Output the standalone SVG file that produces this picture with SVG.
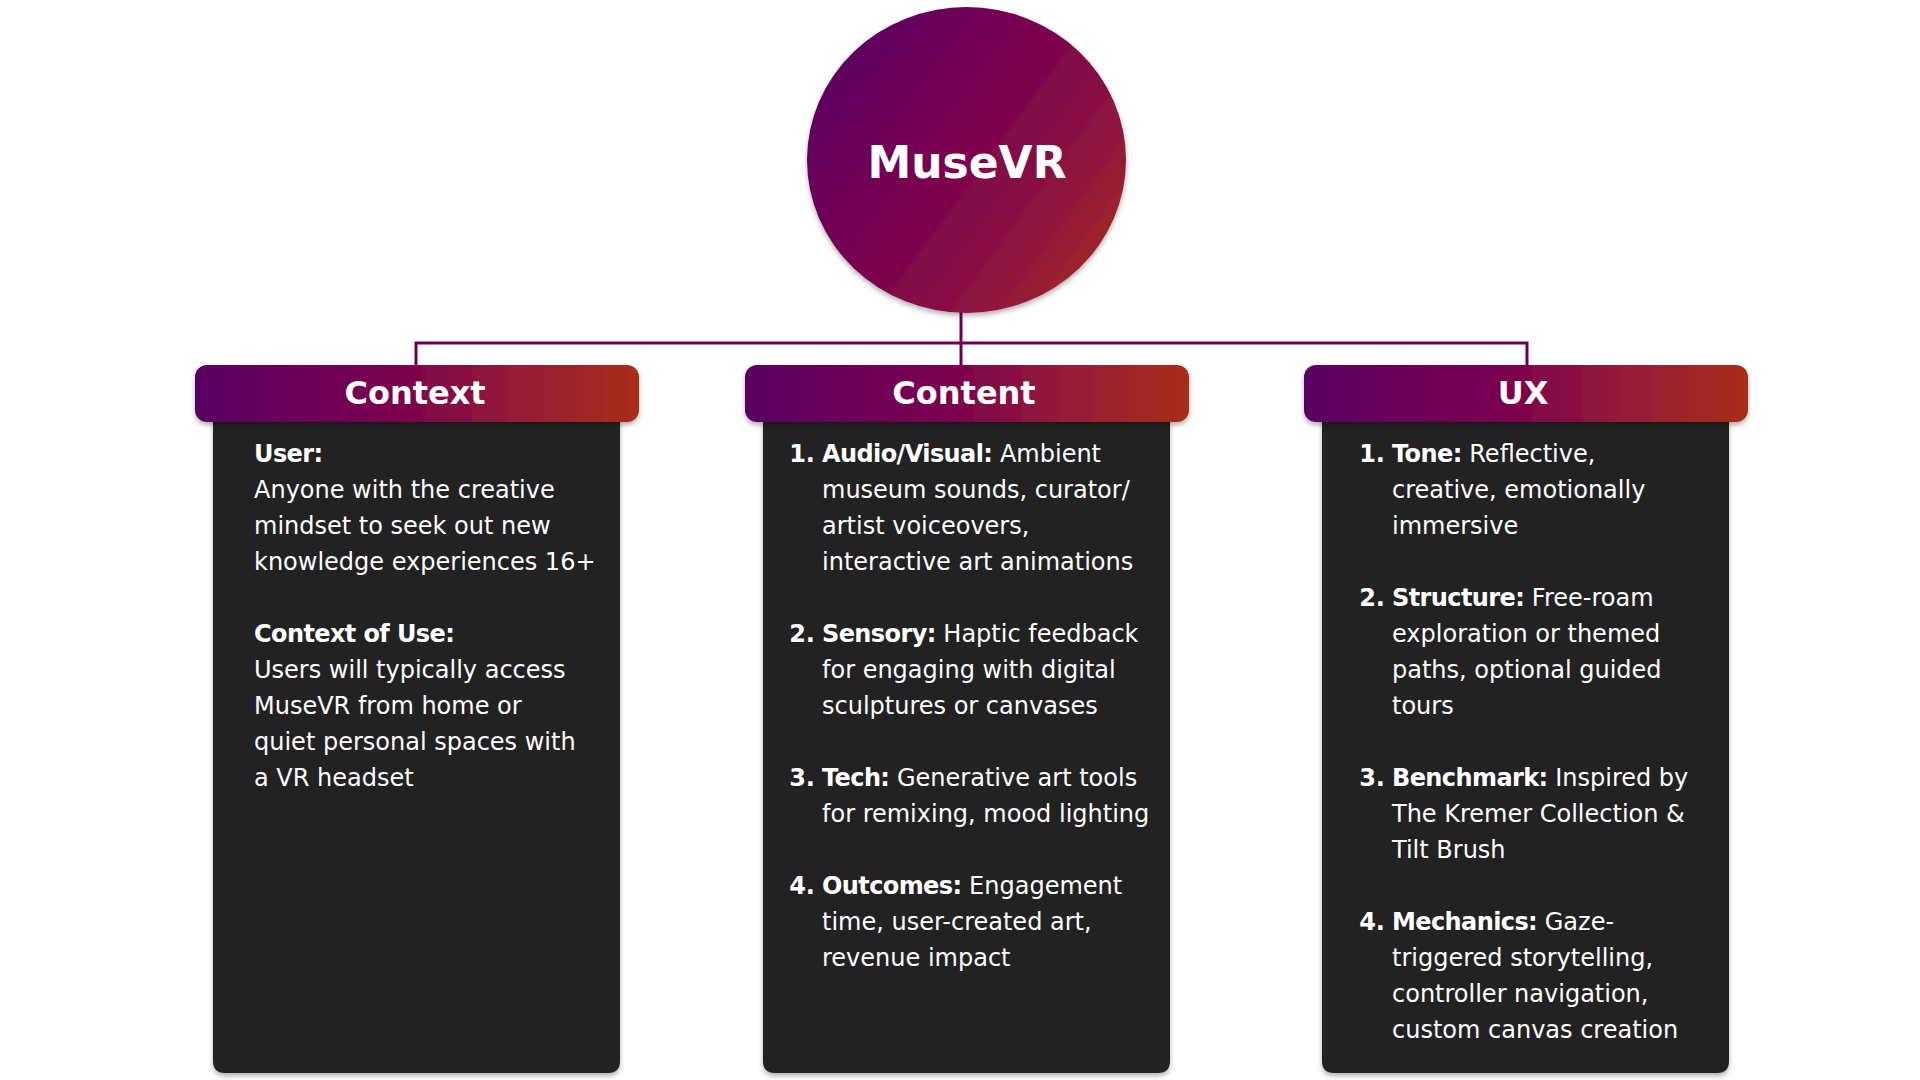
<svg xmlns="http://www.w3.org/2000/svg" width="1920" height="1080" viewBox="0 0 1920 1080">
  <defs>
    <linearGradient id="gHead" x1="0" y1="0" x2="1" y2="0">
      <stop offset="0" stop-color="#590063"/>
      <stop offset="0.45" stop-color="#7a004f"/>
      <stop offset="0.72" stop-color="#951b38"/>
      <stop offset="1" stop-color="#a92e18"/>
    </linearGradient>
    <linearGradient id="gCircle" x1="0" y1="0.15" x2="1" y2="0.85">
      <stop offset="0" stop-color="#580064"/>
      <stop offset="0.45" stop-color="#7a004f"/>
      <stop offset="0.75" stop-color="#8e1540"/>
      <stop offset="1" stop-color="#a82b1c"/>
    </linearGradient>
    <filter id="shadow" x="-10%" y="-10%" width="120%" height="125%">
      <feDropShadow dx="0" dy="3" stdDeviation="2.5" flood-color="#000" flood-opacity="0.3"/>
    </filter>
    <style>
      .head { fill: url(#gHead); filter: url(#shadow); }
      .card { fill: #212121; filter: url(#shadow); }
      .title { font-family: "DejaVu Sans", sans-serif; font-weight: bold; font-size: 32px; fill: #fff; text-anchor: middle; }
      .txt { font-family: "DejaVu Sans", sans-serif; font-size: 24px; fill: #fff; }
      .b { font-weight: bold; letter-spacing: -0.6px; }
      .num { font-family: "DejaVu Sans", sans-serif; font-size: 24px; font-weight: bold; fill: #fff; text-anchor: end; }
      .conn { fill: none; stroke: #6c0050; stroke-width: 3; }
    </style>
  </defs>
  <rect width="1920" height="1080" fill="#ffffff"/>

  <g id="connectors">
    <path class="conn" d="M961,310 V366"/>
    <path class="conn" d="M416,366 V343 H1527 V366"/>
  </g>

  <g id="node-musevr">
    <ellipse cx="966.5" cy="160" rx="159.5" ry="153" fill="url(#gCircle)" filter="url(#shadow)"/>
    <text x="967" y="178" font-family="DejaVu Sans, sans-serif" font-weight="bold" font-size="44" fill="#fff" text-anchor="middle">MuseVR</text>
  </g>

  <g id="node-context">
    <path class="card" d="M213,410 H620 V1061 Q620,1073 608,1073 H225 Q213,1073 213,1061 Z"/>
    <rect class="head" x="195" y="365" width="444" height="57" rx="12"/>
    <text class="title" x="415" y="404">Context</text>
    <text class="txt">
      <tspan x="254" y="462" class="b">User:</tspan>
      <tspan x="254" y="498">Anyone with the creative</tspan>
      <tspan x="254" y="534">mindset to seek out new</tspan>
      <tspan x="254" y="570">knowledge experiences 16+</tspan>
      <tspan x="254" y="642" class="b">Context of Use:</tspan>
      <tspan x="254" y="678">Users will typically access</tspan>
      <tspan x="254" y="714">MuseVR from home or</tspan>
      <tspan x="254" y="750">quiet personal spaces with</tspan>
      <tspan x="254" y="786">a VR headset</tspan>
    </text>
  </g>

  <g id="node-content">
    <path class="card" d="M763,410 H1170 V1061 Q1170,1073 1158,1073 H775 Q763,1073 763,1061 Z"/>
    <rect class="head" x="745" y="365" width="444" height="57" rx="12"/>
    <text class="title" x="964" y="404">Content</text>
    <text class="num" x="815" y="462">1.</text>
    <text class="num" x="815" y="642">2.</text>
    <text class="num" x="815" y="786">3.</text>
    <text class="num" x="815" y="894">4.</text>
    <text class="txt">
      <tspan x="822" y="462"><tspan class="b">Audio/Visual:</tspan> Ambient</tspan>
      <tspan x="822" y="498">museum sounds, curator/</tspan>
      <tspan x="822" y="534">artist voiceovers,</tspan>
      <tspan x="822" y="570">interactive art animations</tspan>
      <tspan x="822" y="642"><tspan class="b">Sensory:</tspan> Haptic feedback</tspan>
      <tspan x="822" y="678">for engaging with digital</tspan>
      <tspan x="822" y="714">sculptures or canvases</tspan>
      <tspan x="822" y="786"><tspan class="b">Tech:</tspan> Generative art tools</tspan>
      <tspan x="822" y="822">for remixing, mood lighting</tspan>
      <tspan x="822" y="894"><tspan class="b">Outcomes:</tspan> Engagement</tspan>
      <tspan x="822" y="930">time, user-created art,</tspan>
      <tspan x="822" y="966">revenue impact</tspan>
    </text>
  </g>

  <g id="node-ux">
    <path class="card" d="M1322,410 H1729 V1061 Q1729,1073 1717,1073 H1334 Q1322,1073 1322,1061 Z"/>
    <rect class="head" x="1304" y="365" width="444" height="57" rx="12"/>
    <text class="title" x="1523" y="404">UX</text>
    <text class="num" x="1385" y="462">1.</text>
    <text class="num" x="1385" y="606">2.</text>
    <text class="num" x="1385" y="786">3.</text>
    <text class="num" x="1385" y="930">4.</text>
    <text class="txt">
      <tspan x="1392" y="462"><tspan class="b">Tone:</tspan> Reflective,</tspan>
      <tspan x="1392" y="498">creative, emotionally</tspan>
      <tspan x="1392" y="534">immersive</tspan>
      <tspan x="1392" y="606"><tspan class="b">Structure:</tspan> Free-roam</tspan>
      <tspan x="1392" y="642">exploration or themed</tspan>
      <tspan x="1392" y="678">paths, optional guided</tspan>
      <tspan x="1392" y="714">tours</tspan>
      <tspan x="1392" y="786"><tspan class="b">Benchmark:</tspan> Inspired by</tspan>
      <tspan x="1392" y="822">The Kremer Collection &amp;</tspan>
      <tspan x="1392" y="858">Tilt Brush</tspan>
      <tspan x="1392" y="930"><tspan class="b">Mechanics:</tspan> Gaze-</tspan>
      <tspan x="1392" y="966">triggered storytelling,</tspan>
      <tspan x="1392" y="1002">controller navigation,</tspan>
      <tspan x="1392" y="1038">custom canvas creation</tspan>
    </text>
  </g>
</svg>
